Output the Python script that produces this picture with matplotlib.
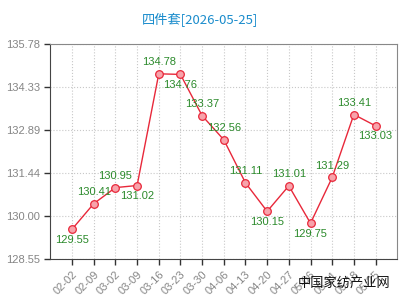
import matplotlib
matplotlib.use('Agg')
import matplotlib.pyplot as plt

# data
dates = ['02-02', '02-09', '03-02', '03-09', '03-16', '03-23', '03-30', '04-06',
         '04-13', '04-20', '04-27', '05-06', '05-11', '05-18', '05-25']
prices = [129.55, 130.41, 130.95, 131.02, 134.78, 134.76, 133.37, 132.56,
          131.11, 130.15, 131.01, 129.75, 131.29, 133.41, 133.03]
# label above (1) or below (-1) the point
label_side = [-1, 1, 1, -1, 1, -1, 1, 1, 1, -1, 1, -1, 1, 1, -1]
yticks = [128.55, 130.00, 131.44, 132.89, 134.33, 135.78]

plt.rcParams['font.family'] = ['Liberation Sans', 'DejaVu Sans']

fig = plt.figure(figsize=(4, 3), dpi=100)
ax = fig.add_axes([0.126, 0.137, 0.867, 0.716])

x = list(range(len(dates)))
ax.plot(x, prices, color='#e8283a', lw=1, marker='o', ms=5.5,
        mfc='#f7a3ab', mec='#e8283a', mew=0.9, zorder=3)

for i, (v, s) in enumerate(zip(prices, label_side)):
    if s > 0:
        ax.annotate('%.2f' % v, (i, v), xytext=(0, 5), textcoords='offset points',
                    ha='center', va='bottom', fontsize=8, color='#2b8a2b')
    else:
        ax.annotate('%.2f' % v, (i, v), xytext=(0, -4), textcoords='offset points',
                    ha='center', va='top', fontsize=8, color='#2b8a2b')

ax.set_xlim(-1, len(dates))
ax.set_ylim(yticks[0], yticks[-1])
ax.set_yticks(yticks)
ax.set_yticklabels(['%.2f' % t for t in yticks])
ax.set_xticks(x)
ax.set_xticklabels(dates, rotation=45, ha='right', rotation_mode='anchor')
ax.tick_params(axis='both', colors='#333333', labelcolor='#858585',
               labelsize=8, length=4, width=1)
ax.grid(True, color='#c8c8c8', ls=':', lw=0.8)
for sp in ax.spines.values():
    sp.set_color('#888888')
ax.spines['left'].set_color('#444444')
ax.spines['bottom'].set_color('#444444')

fig.text(0.5, 0.933, '四件套[2026-05-25]', ha='center', va='center',
         fontsize=9.5, color='#1a8ccc', family=['Noto Sans CJK SC', 'DejaVu Sans'])
fig.text(0.975, 0.057, '中国家纺产业网', ha='right', va='center',
         fontsize=9.5, color='#111111', family=['Noto Sans CJK SC', 'DejaVu Sans'])

fig.savefig('out.png', dpi=100)
